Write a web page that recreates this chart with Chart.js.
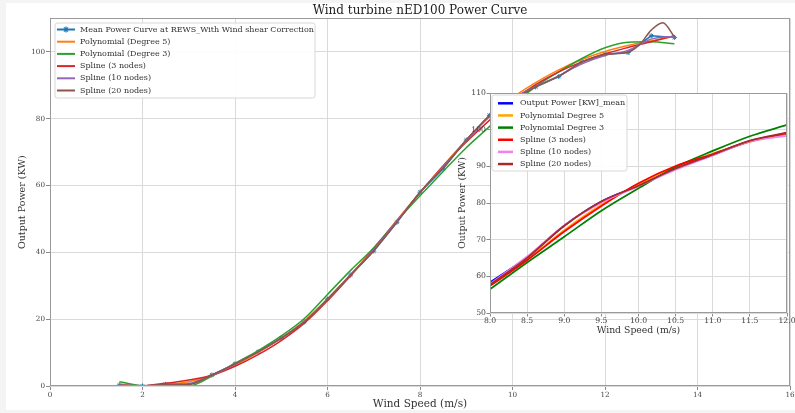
<!DOCTYPE html>
<html>
<head>
<meta charset="utf-8">
<title>Wind turbine nED100 Power Curve</title>
<script src="https://cdn.jsdelivr.net/npm/chart.js@4.4.1/dist/chart.umd.min.js"></script>
<style>
  html, body { margin: 0; padding: 0; background: #f4f4f4; }
  #wrap { position: relative; width: 795px; height: 413px; overflow: hidden; }
  #main { position: absolute; left: 0; top: 0; }
  #inset { position: absolute; left: 440px; top: 83px; }
</style>
</head>
<body>
<div id="wrap">
  <canvas id="main" width="795" height="413"></canvas>
  <canvas id="inset" width="355" height="262"></canvas>
</div>
<script>
// ---- full power curve (m/s -> kW) ----
const windSpeed = [1.5, 2.0, 2.5, 3.0, 3.5, 4.0, 4.5, 5.0, 5.5, 6.0, 6.5, 7.0, 7.5,
                   8.0, 8.5, 9.0, 9.5, 10.0, 10.5, 11.0, 11.5, 12.0, 12.5, 13.0, 13.5];
const meanPower = [0.3, 0.0, 0.5, 0.4, 3.3, 6.6, 10.2, 14.3, 19.2, 26.0, 33.2, 40.4, 49.0,
                   58.0, 65.0, 73.6, 81.0, 85.5, 89.5, 92.6, 97.0, 99.3, 99.8, 104.8, 104.3];
const poly5 = [0.6, 0.1, 0.4, 1.3, 3.2, 6.3, 10.0, 14.3, 19.5, 26.0, 33.4, 41.1, 49.6,
               57.9, 65.9, 73.6, 80.6, 86.3, 90.8, 94.6, 97.7, 100.1, 101.9, 103.3, 104.6];
const poly3 = [1.3, 0.1, 0.0, 0.0, 3.0, 6.8, 10.6, 15.0, 20.2, 27.4, 34.6, 41.4, 49.4,
               56.9, 64.2, 71.3, 77.6, 84.0, 89.6, 94.0, 98.0, 101.2, 102.9, 103.0, 102.4];
const spline3 = [null, 0.0, 0.8, 1.8, 3.2, 5.9, 9.4, 13.6, 18.8, 25.5, 33.0, 40.9, 49.4,
                 57.8, 65.8, 73.0, 79.5, 85.4, 90.2, 94.0, 97.0, 99.4, 101.3, 103.0, 104.8];
const spline10 = [0.3, 0.1, 0.3, 0.7, 3.2, 6.5, 10.2, 14.3, 19.3, 25.9, 33.3, 40.8, 49.3,
                  57.9, 65.6, 73.4, 80.6, 86.0, 89.6, 92.8, 96.4, 98.9, 100.4, 103.8, 104.6];
const spline20Speed = [1.5, 2.0, 2.5, 3.0, 3.5, 4.0, 4.5, 5.0, 5.5, 6.0, 6.5, 7.0, 7.5,
                       8.0, 8.5, 9.0, 9.5, 10.0, 10.5, 11.0, 11.5, 12.0, 12.5, 12.75, 13.0, 13.25, 13.5];
const spline20 = [0.3, 0.0, 0.5, 0.5, 3.3, 6.6, 10.2, 14.3, 19.2, 26.0, 33.2, 40.5, 49.0,
                  58.0, 65.2, 73.6, 80.8, 85.6, 89.5, 92.7, 96.9, 99.2, 99.9, 102.2, 106.5, 108.7, 104.5];

const mainXTicks = [0, 2, 4, 6, 8, 10, 12, 14, 16];
const mainYTicks = [0, 20, 40, 60, 80, 100];

// ---- zoomed view, 8-12 m/s ----
const insetSpeed = [8.0, 8.5, 9.0, 9.5, 10.0, 10.5, 11.0, 11.5, 12.0];
const insetMean = [58.3, 65.2, 73.8, 80.4, 84.7, 89.3, 93.1, 96.9, 98.9];
const insetPoly5 = [57.8, 64.6, 72.6, 79.5, 85.2, 89.9, 93.5, 96.7, 99.0];
const insetPoly3 = [56.5, 63.8, 70.8, 77.9, 84.0, 89.8, 94.2, 98.2, 101.3];
const insetSpline3 = [57.4, 64.4, 72.2, 79.2, 85.4, 90.1, 93.3, 96.8, 99.1];
const insetSpline10 = [57.9, 65.4, 73.9, 80.1, 84.6, 89.1, 93.0, 96.8, 98.3];
const insetSpline20 = [57.7, 65.0, 73.8, 80.4, 84.7, 89.4, 93.2, 97.0, 99.2];

const insetXTicks = [8.0, 8.5, 9.0, 9.5, 10.0, 10.5, 11.0, 11.5, 12.0];
const insetYTicks = [50, 60, 70, 80, 90, 100, 110];

const SERIF = "'DejaVu Serif', serif";

function pts(xs, ys) { return xs.map((x, i) => ({ x: x, y: ys[i] })); }
function fixedTicks(list) { return s => { s.ticks = list.map(v => ({ value: v })); }; }

// legend drawn inside the plot area, in a framed box
const boxLegend = {
  id: 'boxLegend',
  afterDatasetsDraw(chart, args, o) {
    const ctx = chart.ctx;
    ctx.save();
    const r = 2.5, L = o.left, T = o.top, W = o.width, H = o.height;
    ctx.beginPath();
    ctx.moveTo(L + r, T);
    ctx.arcTo(L + W, T, L + W, T + H, r);
    ctx.arcTo(L + W, T + H, L, T + H, r);
    ctx.arcTo(L, T + H, L, T, r);
    ctx.arcTo(L, T, L + W, T, r);
    ctx.closePath();
    ctx.fillStyle = 'rgba(255,255,255,0.92)';
    ctx.fill();
    ctx.strokeStyle = '#d8d8d8';
    ctx.lineWidth = 1;
    ctx.stroke();
    ctx.font = o.fontSize + 'px ' + SERIF;
    ctx.textBaseline = 'middle';
    ctx.textAlign = 'left';
    chart.data.datasets.forEach((ds, i) => {
      const y = o.firstRow + i * o.rowGap;
      ctx.strokeStyle = ds.borderColor;
      ctx.lineWidth = o.lineWidth;
      ctx.beginPath();
      ctx.moveTo(o.swatchX, y);
      ctx.lineTo(o.swatchX + o.swatchW, y);
      ctx.stroke();
      if (ds.pointRadius > 0) {
        const cx = o.swatchX + o.swatchW / 2, m = ds.pointRadius + 0.5;
        ctx.lineWidth = 1.2;
        ctx.beginPath();
        ctx.moveTo(cx - m, y); ctx.lineTo(cx + m, y);
        ctx.moveTo(cx, y - m); ctx.lineTo(cx, y + m);
        ctx.moveTo(cx - m * 0.7, y - m * 0.7); ctx.lineTo(cx + m * 0.7, y + m * 0.7);
        ctx.moveTo(cx - m * 0.7, y + m * 0.7); ctx.lineTo(cx + m * 0.7, y - m * 0.7);
        ctx.stroke();
      }
      ctx.fillStyle = '#333';
      ctx.fillText(ds.label, o.textX, y);
    });
    ctx.restore();
  }
};

// figure background and axes frame
const frame = {
  id: 'frame',
  beforeDraw(chart, args, o) {
    const ctx = chart.ctx, a = chart.chartArea;
    ctx.save();
    if (o.page) {
      ctx.fillStyle = '#f4f4f4';
      ctx.fillRect(0, 0, chart.width, chart.height);
      ctx.fillStyle = '#ffffff';
      ctx.fillRect(6, 3, chart.width - 6, chart.height - 6);
    }
    ctx.fillStyle = '#ffffff';
    ctx.fillRect(a.left, a.top, a.right - a.left, a.bottom - a.top);
    ctx.restore();
  },
  afterDatasetsDraw(chart) {
    const ctx = chart.ctx, a = chart.chartArea;
    ctx.save();
    ctx.strokeStyle = '#9a9a9a';
    ctx.lineWidth = 1;
    ctx.strokeRect(Math.round(a.left) + 0.5, Math.round(a.top) + 0.5,
                   Math.round(a.right - a.left) - 1, Math.round(a.bottom - a.top) - 1);
    ctx.restore();
  }
};

function axisStyle(tickSize, tickLen, pad) {
  return {
    grid: { color: '#dadada', lineWidth: 1, tickColor: '#8a8a8a', tickLength: tickLen, tickWidth: 1 },
    border: { display: false },
    ticks: { font: { family: SERIF, size: tickSize }, color: '#444', padding: pad, maxRotation: 0, autoSkip: false }
  };
}

function line(label, xs, ys, color, width, order, extra) {
  return Object.assign({
    label: label, data: pts(xs, ys), borderColor: color, backgroundColor: color,
    borderWidth: width, pointRadius: 0, cubicInterpolationMode: 'monotone', order: order,
    spanGaps: false
  }, extra || {});
}

// ---- main chart ----
const mxs = axisStyle(7.2, 4, 0.5), mys = axisStyle(7.2, 4, 1);
new Chart(document.getElementById('main'), {
  type: 'line',
  data: {
    datasets: [
      line('Mean Power Curve at REWS_With Wind shear Correction', windSpeed, meanPower, '#1f77b4', 1.6, 5,
           { pointRadius: 2.5, pointStyle: 'star', pointBorderWidth: 1, pointBorderColor: '#1f77b4', cubicInterpolationMode: 'default', tension: 0 }),
      line('Polynomial (Degree 5)', windSpeed, poly5, '#ff7f0e', 1.5, 4),
      line('Polynomial (Degree 3)', windSpeed, poly3, '#2ca02c', 1.5, 3),
      line('Spline (3 nodes)', windSpeed, spline3, '#d62728', 1.5, 2),
      line('Spline (10 nodes)', windSpeed, spline10, '#9467bd', 1.5, 1),
      line('Spline (20 nodes)', spline20Speed, spline20, '#8c564b', 1.5, 0)
    ]
  },
  options: {
    responsive: false, animation: false, devicePixelRatio: 1,
    layout: { padding: { left: 0, right: 4, top: 0, bottom: 0 } },
    plugins: {
      legend: { display: false },
      tooltip: { enabled: false },
      title: {
        display: true, text: 'Wind turbine nED100 Power Curve', fullSize: false,
        color: '#222', font: { family: SERIF, size: 12, weight: 'normal' },
        padding: { top: 4, bottom: 0 }
      },
      frame: { page: true },
      boxLegend: { left: 55, top: 23, width: 260, height: 75, firstRow: 29.5, rowGap: 12.2,
                   swatchX: 57, swatchW: 18, textX: 80, fontSize: 8, lineWidth: 2 }
    },
    scales: {
      x: Object.assign({}, mxs, {
        type: 'linear', min: 0, max: 16,
        afterBuildTicks: fixedTicks(mainXTicks),
        afterFit: s => { s.height = 27; s.paddingLeft = 0; s.paddingRight = 0; },
        title: { display: true, text: 'Wind Speed (m/s)', color: '#333',
                 font: { family: SERIF, size: 10.5 }, padding: { top: 0, bottom: 2.2 } }
      }),
      y: Object.assign({}, mys, {
        type: 'linear', min: 0, max: 110,
        afterBuildTicks: fixedTicks(mainYTicks),
        afterFit: s => { s.width = 50; s.paddingTop = 0; s.paddingBottom = 0; },
        title: { display: true, text: 'Output Power (KW)', color: '#333',
                 font: { family: SERIF, size: 9.5 }, padding: { top: 17.3, bottom: 0 } }
      })
    }
  },
  plugins: [frame, boxLegend]
});

// ---- zoomed chart ----
const ixs = axisStyle(7.7, 3.5, 0.3), iys = axisStyle(7.7, 3.5, 0.5);
ixs.ticks.callback = v => Number(v).toFixed(1);
new Chart(document.getElementById('inset'), {
  type: 'line',
  data: {
    datasets: [
      line('Output Power [KW]_mean', insetSpeed, insetMean, 'blue', 1.8, 5),
      line('Polynomial Degree 5', insetSpeed, insetPoly5, 'orange', 1.8, 4),
      line('Polynomial Degree 3', insetSpeed, insetPoly3, 'green', 1.8, 3),
      line('Spline (3 nodes)', insetSpeed, insetSpline3, 'red', 1.8, 2),
      line('Spline (10 nodes)', insetSpeed, insetSpline10, 'violet', 1.8, 1),
      line('Spline (20 nodes)', insetSpeed, insetSpline20, 'brown', 1.8, 0)
    ]
  },
  options: {
    responsive: false, animation: false, devicePixelRatio: 1,
    layout: { padding: { left: 0, right: 8, top: 10, bottom: 0 } },
    plugins: {
      legend: { display: false },
      tooltip: { enabled: false },
      title: { display: false },
      frame: { page: false },
      boxLegend: { left: 52, top: 12, width: 135, height: 76, firstRow: 20.3, rowGap: 12.15,
                   swatchX: 58, swatchW: 15, textX: 80, fontSize: 8, lineWidth: 2.5 }
    },
    scales: {
      x: Object.assign({}, ixs, {
        type: 'linear', min: 8, max: 12,
        afterBuildTicks: fixedTicks(insetXTicks),
        afterFit: s => { s.height = 32; s.paddingLeft = 0; s.paddingRight = 0; },
        title: { display: true, text: 'Wind Speed (m/s)', color: '#333',
                 font: { family: SERIF, size: 9.3 }, padding: { top: 0, bottom: 8.4 } }
      }),
      y: Object.assign({}, iys, {
        type: 'linear', min: 50, max: 110,
        afterBuildTicks: fixedTicks(insetYTicks),
        afterFit: s => { s.width = 50; s.paddingTop = 0; s.paddingBottom = 0; },
        title: { display: true, text: 'Output Power (KW)', color: '#333',
                 font: { family: SERIF, size: 9.3 }, padding: { top: 17.4, bottom: 0 } }
      })
    }
  },
  plugins: [frame, boxLegend]
});
</script>
</body>
</html>
